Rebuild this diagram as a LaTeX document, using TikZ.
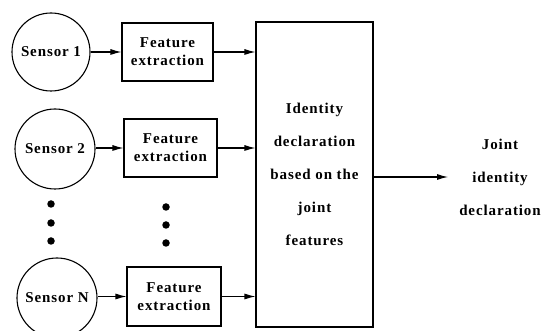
\documentclass[tikz,border=0pt]{standalone}
\usepackage{fontspec}
\setmainfont{Liberation Serif}
\newfontfamily\lbf[LetterSpace=6]{Liberation Serif Bold}
\usetikzlibrary{arrows.meta}
\tikzset{
  sensor/.style={draw,circle,line width=1.1pt,minimum size=80pt,inner sep=0pt,font=\lbf\fontsize{15}{17}\selectfont},
  featbox/.style={draw,rectangle,line width=1.1pt,minimum width=92pt,minimum height=58pt,inner sep=0pt,align=center,font=\lbf\fontsize{15}{18}\selectfont},
  bigbox/.style={draw,rectangle,line width=1.1pt,minimum width=117pt,minimum height=305pt,inner sep=0pt,align=center,font=\lbf\fontsize{15}{33}\selectfont},
  conn/.style={line width=1.1pt,-{Latex[length=11pt,width=6pt]}},
  dot/.style={fill,circle,inner sep=0pt,minimum size=7.5pt}
}
\begin{document}
\begin{tikzpicture}[x=1pt,y=-1pt]
\useasboundingbox (0,0) rectangle (544,331);
\node[sensor,minimum size=78pt] (s1) at (51,52) {Sensor 1};
\node[sensor] (s2) at (55,149) {Sensor 2};
\node[sensor] (sN) at (57,298) {Sensor N};
\node[featbox,minimum width=91pt] (f1) at (167.5,52) {Feature\\extraction};
\node[featbox,minimum width=93pt] (f2) at (170.5,148) {Feature\\extraction};
\node[featbox,minimum width=94pt,minimum height=59pt] (fN) at (174,296.5) {Feature\\extraction};
\node[bigbox] (big) at (314.5,174.5) {Identity\\declaration\\based on the\\joint\\features};
\node[align=center,font=\lbf\fontsize{15}{33}\selectfont,inner sep=0pt] (out) at (500,177) {Joint\\identity\\declaration};
\draw[conn] (s1) -- (f1);
\draw[conn] (s2.east |- f2.west) -- (f2.west);
\draw[conn] (sN.east |- fN.west) -- (fN.west);
\draw[conn] (f1.east) -- (f1.east -| big.west);
\draw[conn] (f2.east) -- (f2.east -| big.west);
\draw[conn] (fN.east) -- (fN.east -| big.west);
\draw[conn,shorten >=11pt] (big.east |- out.west) -- (out.west);
\node[dot] (d1) at (51,204) {};
\node[dot] (d2) at (51,223) {};
\node[dot] (d3) at (51,241) {};
\node[dot] (e1) at (166,207) {};
\node[dot] (e2) at (166,225) {};
\node[dot] (e3) at (166,243) {};
\end{tikzpicture}
\end{document}
